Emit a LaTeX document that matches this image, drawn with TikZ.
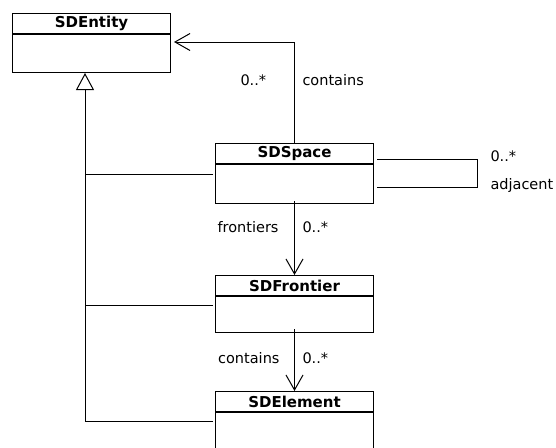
\documentclass[tikz,border=0pt]{standalone}
\usepackage{fontspec}
\setmainfont{DejaVu Sans}
\usetikzlibrary{arrows.meta,calc}
\begin{document}
\begin{tikzpicture}[x=1pt,y=-1pt,
  line width=1pt,
  classhead/.style={draw,line width=1pt,minimum width=158pt,minimum height=20pt,inner sep=0pt,
    font=\fontsize{15}{16}\selectfont\bfseries,anchor=north west},
  classbody/.style={draw,line width=1pt,minimum width=158pt,inner sep=0pt,anchor=north west},
  lbl/.style={font=\fontsize{14.5}{16}\selectfont,inner sep=0pt},
  assoc/.style={-{Straight Barb[length=15pt,width=17pt,line width=1pt]}},
  gen/.style={-{Triangle[open,length=17pt,width=18pt,line width=1pt,fill=white]}}
]
\useasboundingbox (0,0) rectangle (556,447);
\begin{scope}
\clip (0,0) rectangle (556,447);
% classes
\node[classhead] (ent) at (12,13) {SDEntity};
\node[classbody,minimum height=38pt] (entb) at (ent.south west) {};
\node[classhead] (spc) at (215,143) {SDSpace};
\node[classbody,minimum height=39pt] (spcb) at (spc.south west) {};
\node[classhead] (fro) at (215,275) {SDFrontier};
\node[classbody,minimum height=36pt] (frob) at (fro.south west) {};
\node[classhead] (elm) at (215,391) {SDElement};
\node[classbody,minimum height=60pt] (elmb) at (elm.south west) {};
\end{scope}
% helper coordinates
\coordinate (gx) at (85,0);
\coordinate (y42) at (0,42);
\coordinate (sl1) at ($(spc.north east)+(3,16)$);
\coordinate (sl2) at ($(spc.north east)+(3,44)$);
\coordinate (loopx) at (477,0);
\coordinate (hs) at ($(spcb.north west)+(-2,10)$);
\coordinate (hf) at ($(frob.north west)+(-2,9)$);
\coordinate (he) at ($(elmb.north west)+(-2,9)$);
% generalization
\draw[gen] (gx |- he) -- (gx |- entb.south);
\draw (hs) -- (gx |- hs);
\draw (hf) -- (gx |- hf);
\draw (he) -- (gx |- he);
% associations
\draw[assoc] (spc.north) |- ([xshift=3pt]entb.east |- y42);
\draw[assoc] ([yshift=3pt]spcb.south) -- (fro.north);
\draw[assoc] ([yshift=4pt]frob.south) -- (elm.north);
\draw (sl1) -- (loopx |- sl1) -- (loopx |- sl2) -- (sl2);
% labels
\node[lbl,anchor=west] (l1) at (240,80) {0..*};
\node[lbl,anchor=west] (l2) at (302,80) {contains};
\node[lbl,anchor=west] (l3) at (490,156) {0..*};
\node[lbl,anchor=west] (l4) at (490,185) {adjacent};
\node[lbl,anchor=east] (l5) at (279,227) {frontiers};
\node[lbl,anchor=west] (l6) at (302,227) {0..*};
\node[lbl,anchor=east] (l7) at (280,358) {contains};
\node[lbl,anchor=west] (l8) at (302,358) {0..*};
\end{tikzpicture}
\end{document}
